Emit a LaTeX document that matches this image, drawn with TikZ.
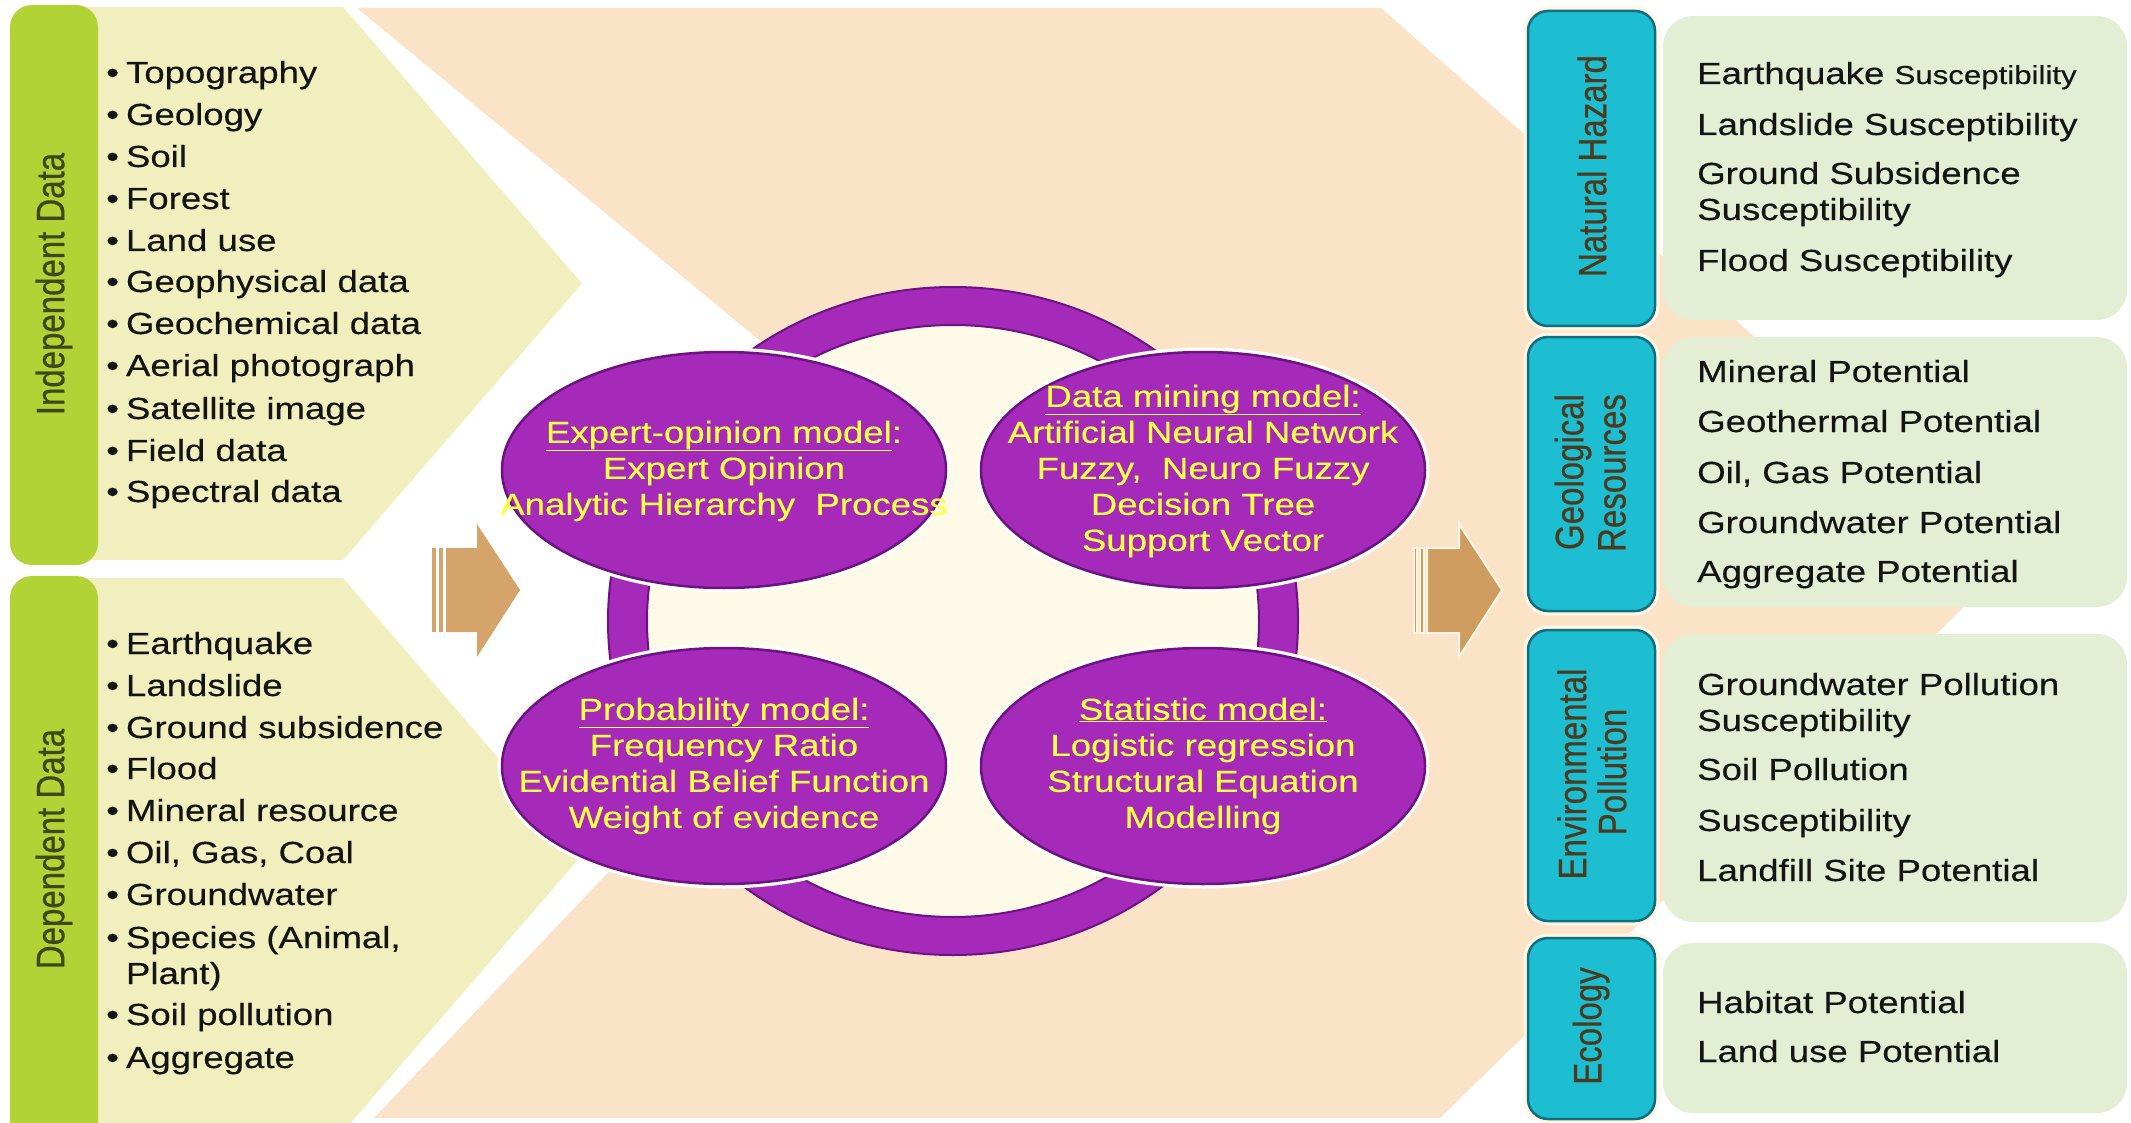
\documentclass[tikz,border=0pt]{standalone}
\usepackage{fontspec}
\usepackage{graphicx}
\setmainfont{Liberation Sans}[FakeStretch=1.2,FakeBold=0.35]
\newfontfamily\vfont{Liberation Sans}[FakeBold=0.6]
\usetikzlibrary{shapes.geometric}
\definecolor{peach}{HTML}{FAE3C6}
\definecolor{paleyel}{HTML}{F1EFBD}
\definecolor{limec}{HTML}{B3D235}
\definecolor{limetext}{HTML}{3E4814}
\definecolor{tealc}{HTML}{1EBED2}
\definecolor{tealdark}{HTML}{106F7E}
\definecolor{tealtext}{HTML}{4B3B1E}
\definecolor{lightgreen}{HTML}{E3EED4}
\definecolor{purp}{HTML}{A52ABA}
\definecolor{purpdark}{HTML}{6C1381}
\definecolor{creamc}{HTML}{FDFAE7}
\definecolor{ytext}{HTML}{FFFF45}
\definecolor{arrowtan}{HTML}{D4A46B}
\definecolor{arrowtanb}{HTML}{CF9C60}
\definecolor{haloc}{HTML}{FFF7E4}
\begin{document}
\begin{tikzpicture}[x=1pt,y=-1pt,
  listtxt/.style={anchor=base west, inner sep=0pt, text=black!92, font=\fontsize{30.5}{36}\selectfont},
  elltxt/.style={anchor=center, align=center, inner sep=0pt, text=ytext, font=\fontsize{30.5}{36}\selectfont},
  purpell/.style={ellipse, fill=purp, draw=purpdark, line width=2.5pt, minimum width=444pt, minimum height=236pt, inner sep=0pt, preaction={draw=white, line width=9pt}},
  tealbox/.style={rectangle, rounded corners=20pt, fill=tealc, draw=tealdark, line width=2.5pt, minimum width=127pt, inner sep=0pt, preaction={draw=haloc, line width=9pt}},
  greenbox/.style={rectangle, rounded corners=30pt, fill=lightgreen, minimum width=464pt, inner sep=0pt},
  limebar/.style={rectangle, rounded corners=22pt, fill=limec, minimum width=88pt, inner sep=0pt},
  vlab/.style={rotate=90, inner sep=0pt, font=\vfont\fontsize{33}{33}\selectfont}
]
\useasboundingbox (0,0) rectangle (2131,1123);
\clip (0,0) rectangle (2131,1123);

% background chevron
\fill[peach] (357,8) -- (1381,8) -- (2010,562) -- (1440,1118) -- (374,1118) -- (959,505) -- cycle;

% left chevrons
\fill[paleyel] (60,7) -- (343,7) -- (582,283.5) -- (343,560) -- (60,560) -- cycle;
\fill[paleyel] (60,578) -- (343,578) -- (582,855) -- (343,1132) -- (60,1132) -- cycle;

% lime bars
\node[limebar, minimum height=560pt] (bind) at (54,285) {};
\node[limebar, minimum height=574pt] (bdep) at (54,863) {};
\node[vlab, text=limetext] (lind) at (54,284) {\scalebox{1}[1.2]{Independent Data}};
\node[vlab, text=limetext] (ldep) at (54,849) {\scalebox{1}[1.2]{Dependent Data}};

% left arrow
\fill[arrowtan] (432,548) rectangle (436,632);
\fill[arrowtan] (439,548) rectangle (443,632);
\fill[arrowtan] (446,548) -- (477,548) -- (477,524) -- (520,590) -- (477,657) -- (477,632) -- (446,632) -- cycle;

% right arrow
\filldraw[fill=arrowtanb, draw=haloc, line width=2pt] (1414,548) rectangle (1417,633);
\filldraw[fill=arrowtanb, draw=haloc, line width=2pt] (1420,548) rectangle (1424,633);
\filldraw[fill=arrowtanb, draw=haloc, line width=2pt] (1427,548) -- (1459,548) -- (1459,524) -- (1502,590) -- (1459,657) -- (1459,633) -- (1427,633) -- cycle;

% ring
\fill[purp, even odd rule] (953,621) ellipse [x radius=345pt, y radius=334pt] (953,621) ellipse [x radius=306pt, y radius=296pt];
\fill[creamc] (953,621) ellipse [x radius=306pt, y radius=296pt];
\draw[purpdark, line width=2pt] (953,621) ellipse [x radius=345pt, y radius=334pt];
\draw[purpdark, line width=2pt] (953,621) ellipse [x radius=306pt, y radius=296pt];

% model ellipses
\node[purpell] (eTL) at (724,470) {};
\node[purpell] (eTR) at (1203,470) {};
\node[purpell] (eBL) at (724,766) {};
\node[purpell] (eBR) at (1203,766) {};
\node[elltxt] (tTL) at (724,471) {\underline{Expert-opinion model}:\\Expert Opinion\\Analytic Hierarchy\ \ Process};
\node[elltxt] (tTR) at (1203,471) {\underline{Data mining model:}\\Artificial Neural Network\\Fuzzy,\ \ Neuro Fuzzy\\Decision Tree\\Support Vector};
\node[elltxt] (tBL) at (724,766) {\underline{Probability model:}\\Frequency Ratio\\Evidential Belief Function\\Weight of evidence};
\node[elltxt] (tBR) at (1203,766) {\underline{Statistic model:}\\Logistic regression\\Structural Equation\\Modelling};

% right side boxes
\node[greenbox, minimum height=304pt] (gnh) at (1895,168) {};
\node[greenbox, minimum height=270pt] (ggr) at (1895,472) {};
\node[greenbox, minimum height=288pt] (gep) at (1895,778) {};
\node[greenbox, minimum height=170pt] (geco) at (1895,1028) {};
\node[tealbox, minimum height=315pt] (tnh) at (1591.5,168.5) {};
\node[tealbox, minimum height=274pt] (tgr) at (1591.5,474) {};
\node[tealbox, minimum height=291pt] (tep) at (1591.5,775.5) {};
\node[tealbox, minimum height=181pt] (teco) at (1591.5,1028.5) {};
\node[vlab, text=tealtext] (lnh) at (1592,166) {\scalebox{1}[1.2]{Natural Hazard}};
\node[vlab, text=tealtext] (lgr1) at (1573,472) {\scalebox{1}[1.2]{Geological}};
\node[vlab, text=tealtext] (lgr2) at (1612,473) {\scalebox{1}[1.2]{Resources}};
\node[vlab, text=tealtext] (lep1) at (1572,774) {\scalebox{1}[1.2]{Environmental}};
\node[vlab, text=tealtext] (lep2) at (1612,772) {\scalebox{1}[1.2]{Pollution}};
\node[vlab, text=tealtext] (leco) at (1591,1026) {\scalebox{1}[1.2]{Ecology}};

% left lists
\foreach \t/\y [count=\i] in {Topography/83, Geology/125, Soil/167, Forest/209, Land use/251, Geophysical data/292, Geochemical data/334, Aerial photograph/376, Satellite image/419, Field data/461, Spectral data/502}
  \node[listtxt] (ind\i) at (106,\y) {•\hspace{7pt}\t};
\foreach \t/\y [count=\i] in {Earthquake/654, Landslide/696, Ground subsidence/738, Flood/779, Mineral resource/821, {Oil, Gas, Coal}/863, Groundwater/905, {Species (Animal,}/948, Soil pollution/1025, Aggregate/1068}
  \node[listtxt] (dep\i) at (106,\y) {•\hspace{7pt}\t};
\node[listtxt] (depplant) at (106,984) {\phantom{•}\hspace{7pt}Plant)};

% right lists
\node[listtxt] (res0) at (1697,84) {Earthquake {\fontsize{26}{30}\selectfont Susceptibility}};
\foreach \t/\y [count=\i] in {Landslide Susceptibility/135, Ground Subsidence/184, Susceptibility/220, Flood Susceptibility/271, Mineral Potential/382, Geothermal Potential/432, {Oil, Gas Potential}/483, Groundwater Potential/533, Aggregate Potential/582, Groundwater Pollution/695, Susceptibility/731, Soil Pollution/780, Susceptibility/831, Landfill Site Potential/881, Habitat Potential/1013, Land use Potential/1062}
  \node[listtxt] (res\i) at (1697,\y) {\t};
\end{tikzpicture}
\end{document}
